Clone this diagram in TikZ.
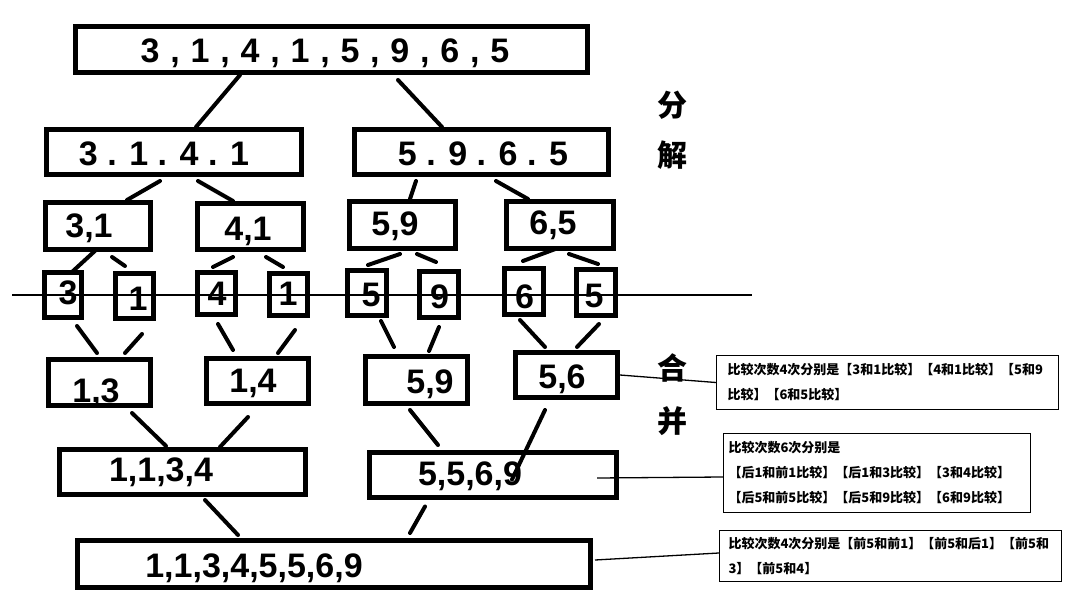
\documentclass[tikz,border=0pt]{standalone}
\usepackage{fontspec}
\setmainfont{Liberation Sans}
\newfontfamily\cjk{Noto Sans CJK SC}
\usepackage{tikz}
\usetikzlibrary{positioning}
\usepackage{xcolor}
\definecolor{inkBlack}{HTML}{000000}
\definecolor{paperWhite}{HTML}{FFFFFF}
\tikzset{
    box/.style={rectangle, draw=inkBlack, line width=5pt, inner sep=0pt},
    num/.style={font=\fontsize{34}{40}\selectfont\bfseries, text=inkBlack, inner sep=0pt, anchor=base},
    phase/.style={font=\cjk\fontsize{30}{32}\selectfont\bfseries, text=inkBlack, inner sep=0pt},
    link/.style={draw=inkBlack, line width=4pt, line cap=round},
    note/.style={rectangle, draw=inkBlack, line width=1.3pt, align=left, inner ysep=0pt, font=\cjk\fontsize{13}{25}\selectfont\bfseries},
    notelink/.style={draw=inkBlack, line width=1.3pt},
    cutline/.style={draw=inkBlack, line width=1.2pt},
}
\begin{document}
\begin{tikzpicture}[x=1pt, y=-1pt]
    \path[use as bounding box, fill=paperWhite] (0,0) rectangle (1090,597);

    % split
    \node[box, minimum width=512pt, minimum height=46pt] (top) at (331.5,49.5) {};
    \node[box, minimum width=255pt, minimum height=45pt] (l2a) at (174,152) {};
    \node[box, minimum width=254pt, minimum height=45pt] (l2b) at (481.5,152) {};
    \node[box, minimum width=105pt, minimum height=47pt] (l3a) at (98,226) {};
    \node[box, minimum width=106pt, minimum height=46pt] (l3b) at (250.5,226.5) {};
    \node[box, minimum width=106pt, minimum height=47pt] (l3c) at (402.5,225) {};
    \node[box, minimum width=107pt, minimum height=47pt] (l3d) at (560,225) {};
    \node[box, minimum width=37pt, minimum height=45pt] (leaf1) at (63,295) {};
    \node[box, minimum width=38pt, minimum height=45pt] (leaf2) at (134.5,296) {};
    \node[box, minimum width=38pt, minimum height=42pt] (leaf3) at (216.5,293.5) {};
    \node[box, minimum width=38pt, minimum height=42pt] (leaf4) at (288.5,294.5) {};
    \node[box, minimum width=39pt, minimum height=45pt] (leaf5) at (367,293) {};
    \node[box, minimum width=39pt, minimum height=46pt] (leaf6) at (439,294.5) {};
    \node[box, minimum width=39pt, minimum height=46pt] (leaf7) at (524,291.5) {};
    \node[box, minimum width=39pt, minimum height=46pt] (leaf8) at (596,292.5) {};

    % merge
    \node[box, minimum width=102pt, minimum height=46pt] (m1) at (99.5,382.5) {};
    \node[box, minimum width=102pt, minimum height=45pt] (m2) at (257.5,381) {};
    \node[box, minimum width=102pt, minimum height=47pt] (m3) at (416.5,380) {};
    \node[box, minimum width=102pt, minimum height=45pt] (m4) at (566.5,375) {};
    \node[box, minimum width=246pt, minimum height=45pt] (m5) at (182.5,472) {};
    \node[box, minimum width=247pt, minimum height=45pt] (m6) at (493,475) {};
    \node[box, minimum width=513pt, minimum height=47pt] (final) at (334,564) {};

    \node[num] (ttop) at (325,62) {\spaceskip=10.8pt 3 , 1 , 4 , 1 , 5 , 9 , 6 , 5};
    \node[num] (tl2a) at (164,165) {3 . 1 . 4 . 1};
    \node[num] (tl2b) at (483,165) {5 . 9 . 6 . 5};
    \node[num] (tl3a) at (89,237) {3,1};
    \node[num] (tl3b) at (248,240) {4,1};
    \node[num] (tl3c) at (395,235) {5,9};
    \node[num] (tl3d) at (553,234) {6,5};
    \node[num] (tleaf1) at (68,304) {3};
    \node[num] (tleaf2) at (138,310) {1};
    \node[num] (tleaf3) at (217,305) {4};
    \node[num] (tleaf4) at (288,305) {1};
    \node[num] (tleaf5) at (371,306) {5};
    \node[num] (tleaf6) at (439.5,308) {9};
    \node[num] (tleaf7) at (524.5,308) {6};
    \node[num] (tleaf8) at (594,307) {5};
    \node[num] (tm1) at (96,402) {1,3};
    \node[num] (tm2) at (253,392) {1,4};
    \node[num] (tm3) at (430,393) {5,9};
    \node[num] (tm4) at (562,388) {5,6};
    \node[num] (tm5) at (161,481) {1,1,3,4};
    \node[num] (tm6) at (470,485) {5,5,6,9};
    \node[num] (tfinal) at (254,577) {1,1,3,4,5,5,6,9};

    \node[phase] (fen) at (672,105) {分};
    \node[phase] (jie) at (672,155) {解};
    \node[phase] (he) at (672.5,368) {合};
    \node[phase] (bing) at (672.5,421) {并};

    \node[note, text width=320pt, inner xsep=11pt, minimum height=54pt] (noteA) at (887.5,382.5)
        {比较次数4次分别是【3和1比较】【4和1比较】【5和9\\比较】【6和5比较】};
    \node[note, text width=297pt, inner xsep=5pt, minimum height=79pt] (noteB) at (877,473)
        {比较次数6次分别是\\【后1和前1比较】【后1和3比较】【3和4比较】\\【后5和前5比较】【后5和9比较】【6和9比较】};
    \node[note, text width=324pt, inner xsep=9pt, minimum height=51pt] (noteC) at (890.5,556)
        {比较次数4次分别是【前5和前1】【前5和后1】【前5和\\3】【前5和4】};

    \draw[link] ([xshift=-91.5pt]top.south) -- ([xshift=22pt]l2a.north);
    \draw[link] ([xshift=66.5pt,yshift=-5pt]top.south) -- ([xshift=-39.5pt]l2b.north);
    \draw[link] ([xshift=-14pt,yshift=-4pt]l2a.south) -- ([xshift=29pt]l3a.north);
    \draw[link] ([xshift=24pt,yshift=-4pt]l2a.south) -- ([xshift=-17.5pt]l3b.north);
    \draw[link] ([xshift=-65.5pt,yshift=-4pt]l2b.south) -- ([xshift=7.5pt]l3c.north);
    \draw[link] ([xshift=14.5pt,yshift=-4pt]l2b.south) -- ([xshift=-32pt]l3d.north);
    \draw[link] ([xshift=-1pt,yshift=3pt]l3a.south) -- ([xshift=9pt,yshift=-2pt]leaf1.north);
    \draw[link] ([xshift=14pt,yshift=-5pt]l3a.south) -- ([xshift=-9.5pt,yshift=5pt]leaf2.north);
    \draw[link] ([xshift=-17.5pt,yshift=-5pt]l3b.south) -- ([xshift=-3.5pt,yshift=3pt]leaf3.north);
    \draw[link] ([xshift=15.5pt,yshift=-5pt]l3b.south) -- ([xshift=-5.5pt,yshift=4pt]leaf4.north);
    \draw[link] ([xshift=-2.5pt,yshift=-3pt]l3c.south) -- ([xshift=1pt,yshift=3pt]leaf5.north);
    \draw[link] ([xshift=14.5pt,yshift=-3pt]l3c.south) -- ([xshift=-3pt,yshift=7pt]leaf6.north);
    \draw[link] ([xshift=-2pt,yshift=3pt]l3d.south) -- ([xshift=-1pt,yshift=5pt]leaf7.north);
    \draw[link] ([xshift=9pt,yshift=-3pt]l3d.south) -- ([xshift=2pt,yshift=3pt]leaf8.north);
    \draw[link] ([xshift=14pt,yshift=-6pt]leaf1.south) -- ([xshift=-2.5pt,yshift=4pt]m1.north);
    \draw[link] ([xshift=7.5pt,yshift=-13pt]leaf2.south) -- ([xshift=25.5pt,yshift=4pt]m1.north);
    \draw[link] ([xshift=1.5pt,yshift=-7pt]leaf3.south) -- ([xshift=-24.5pt,yshift=6pt]m2.north);
    \draw[link] ([xshift=6.5pt,yshift=-12pt]leaf4.south) -- ([xshift=20.5pt,yshift=3pt]m2.north);
    \draw[link] ([xshift=14pt,yshift=-3pt]leaf5.south) -- ([xshift=-22.5pt,yshift=7pt]m3.north);
    \draw[link] ([yshift=-7pt]leaf6.south) -- ([xshift=12.5pt,yshift=3pt]m3.north);
    \draw[link] ([xshift=-4pt,yshift=-3pt]leaf7.south) -- ([xshift=-21.5pt,yshift=3pt]m4.north);
    \draw[link] ([xshift=3pt,yshift=-6pt]leaf8.south) -- ([xshift=10.5pt,yshift=3pt]m4.north);
    \draw[link] ([xshift=32.5pt,yshift=-5pt]m1.south) -- ([xshift=-16.5pt,yshift=1pt]m5.north);
    \draw[link] ([xshift=-9.5pt,yshift=-11pt]m2.south) -- ([xshift=37.5pt]m5.north);
    \draw[link] ([xshift=-6.5pt,yshift=-4pt]m3.south) -- ([xshift=-55pt,yshift=5pt]m6.north);
    \draw[link] ([xshift=-21.5pt,yshift=-10pt]m4.south) -- ([xshift=19pt,yshift=-29.5pt]m6.north);
    \draw[link] ([xshift=22.5pt,yshift=-3pt]m5.south) -- ([xshift=-96pt,yshift=3pt]final.north);
    \draw[link] ([xshift=-68pt,yshift=-6.5pt]m6.south) -- ([xshift=76pt,yshift=5pt]final.north);

    \draw[notelink] (m4.east) -- (noteA.west);
    \draw[notelink] ([xshift=-22pt,yshift=-3pt]m6.east) -- ([yshift=-4pt]noteB.west);
    \draw[notelink] ([xshift=2pt,yshift=4pt]final.east) -- ([yshift=3pt]noteC.west);

    \coordinate (cutL) at (12,295);
    \coordinate (cutR) at (752,295);
    \draw[cutline] (cutL) -- (cutR);
\end{tikzpicture}
\end{document}
